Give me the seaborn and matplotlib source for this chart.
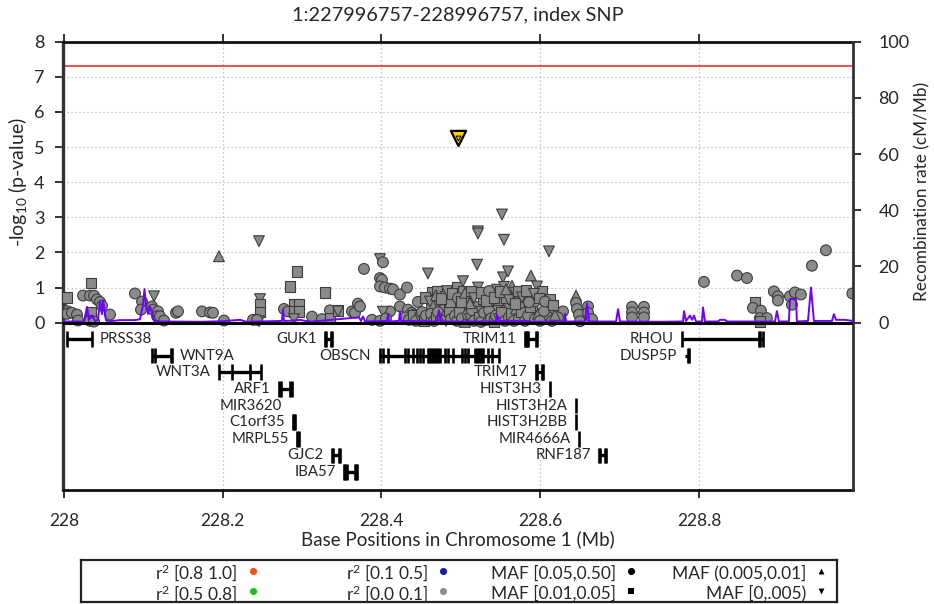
import matplotlib
matplotlib.use("Agg")
import matplotlib.pyplot as plt
import seaborn as sns
import pandas as pd

# ---------------- association results (position in Mb, -log10 p, MAF bin) ----------------
snp_pos = [
    228.0035, 228.0052, 228.0026, 228.0039, 228.0102, 228.0165, 228.0178, 228.0241, 228.0329, 228.0379,
    228.0417, 228.0455, 228.0480, 228.0341, 228.0341, 228.0329, 228.0379, 228.0581, 228.0895, 228.0984,
    228.0971, 228.1135, 228.1110, 228.1122, 228.1185, 228.1173, 228.1210, 228.1261, 228.1412, 228.1437,
    228.1739, 228.1840, 228.1878, 228.2016, 228.1953, 228.2457, 228.2470, 228.2470, 228.2470, 228.2457,
    228.2382, 228.2432, 228.2936, 228.2848, 228.2772, 228.2822, 228.2898, 228.2961, 228.2898, 228.2961,
    228.2898, 228.3137, 228.3125, 228.3250, 228.3288, 228.3351, 228.3351, 228.3452, 228.3452, 228.3628,
    228.3666, 228.3703, 228.3729, 228.3779, 228.3880, 228.3981, 228.4018, 228.3981, 228.4006, 228.3981,
    228.4043, 228.4106, 228.4144, 228.4232, 228.4321, 228.4232, 228.4106, 228.4018, 228.3981, 228.4056,
    228.4458, 228.4333, 228.4383, 228.4421, 228.4585, 228.4636, 228.4699, 228.4636, 228.4636, 228.4737,
    228.4774, 228.4774, 228.4800, 228.4837, 228.4900, 228.4900, 228.4951, 228.4988, 228.5026, 228.5026,
    228.5064, 228.5077, 228.5089, 228.5177, 228.5203, 228.5215, 228.5215, 228.5215, 228.5240, 228.5278,
    228.5328, 228.5391, 228.5404, 228.5454, 228.5454, 228.5454, 228.5467, 228.5517, 228.5542, 228.5530,
    228.5542, 228.5530, 228.5580, 228.5593, 228.5618, 228.5643, 228.5656, 228.5706, 228.5782, 228.5832,
    228.5882, 228.5908, 228.5958, 228.6021, 228.6021, 228.6109, 228.6122, 228.6109, 228.6084, 228.6248,
    228.6286, 228.6223, 228.6450, 228.6450, 228.6462, 228.6487, 228.6500, 228.6601, 228.6601, 228.6651,
    228.7155, 228.7155, 228.7155, 228.7306, 228.7306, 228.7306,
    228.4296, 228.4346, 228.4396, 228.4434, 228.4485, 228.4510, 228.4535, 228.4560, 228.4598, 228.4623,
    228.4661, 228.4686, 228.4711, 228.4749, 228.4787, 228.4812, 228.4850, 228.4875, 228.4925, 228.4951,
    228.4976, 228.5013, 228.5051, 228.5089, 228.5114, 228.5140, 228.5165, 228.5228, 228.5253, 228.5291,
    228.5316, 228.5354, 228.5379, 228.5417, 228.5442, 228.5480, 228.5505, 228.5555, 228.5605, 228.5630,
    228.5668, 228.5694, 228.5731, 228.5756, 228.5807, 228.5845, 228.5870, 228.5933, 228.5971, 228.5996,
    228.6046, 228.6147, 228.6185,
    228.4863, 228.5114, 228.5303, 228.5366, 228.5567, 228.5681, 228.5743, 228.5807, 228.5933,
    228.4548, 228.4611, 228.4686, 228.4749, 228.4825, 228.4888, 228.4963, 228.5001, 228.5052, 228.5127,
    228.5165, 228.5253, 228.5316, 228.5354, 228.5417, 228.5492, 228.5568, 228.5606, 228.5681, 228.5719,
    228.5769, 228.5820, 228.5857, 228.5920, 228.5983, 228.6059, 228.6160,
    228.8061, 228.8477, 228.8603, 228.8703, 228.8678, 228.8779, 228.8766, 228.8854, 228.8766, 228.8942,
    228.8993, 228.8993, 228.9144, 228.9207, 228.9282, 228.9169, 228.9421, 228.9597, 228.9930,
]
snp_logp = [
    0.71, 0.32, 0.38, 0.25, 0.28, 0.23, 0.06, 0.77, 0.77, 0.77,
    0.66, 0.59, 0.48, 1.13, 0.30, 0.05, 0.03, 0.23, 0.83, 0.60,
    0.37, 0.75, 0.46, 0.37, 0.32, 0.18, 0.18, 0.06, 0.28, 0.32,
    0.32, 0.29, 0.28, 0.06, 1.89, 2.32, 0.67, 0.51, 0.30, 0.04,
    0.08, 0.08, 1.46, 1.02, 0.39, 0.32, 0.53, 0.53, 0.32, 0.32,
    0.10, 0.10, 0.17, 0.10, 0.86, 0.35, 0.13, 0.35, 0.32, 0.32,
    0.28, 0.54, 0.46, 1.53, 0.08, 1.81, 1.72, 1.27, 1.22, 1.03,
    1.00, 0.97, 0.95, 0.80, 1.00, 0.46, 0.32, 0.31, 0.05, 0.12,
    0.59, 0.37, 0.28, 0.23, 1.40, 0.85, 0.89, 0.66, 0.46, 0.57,
    0.48, 0.36, 0.75, 0.23, 0.66, 0.36, 0.99, 0.13, 1.18, 0.89,
    0.48, 0.28, 0.75, 0.46, 1.65, 2.60, 2.54, 1.00, 0.32, 0.67,
    0.18, 0.48, 0.56, 0.94, 0.80, 0.36, 0.66, 3.08, 2.36, 1.29,
    1.02, 0.23, 0.36, 1.46, 0.46, 1.05, 0.67, 0.32, 0.18, 0.67,
    1.34, 0.36, 1.03, 0.89, 0.23, 2.03, 0.67, 0.42, 0.18, 0.28,
    0.32, 0.15, 0.77, 0.56, 0.39, 0.23, 0.04, 0.46, 0.28, 0.10,
    0.45, 0.29, 0.15, 0.45, 0.29, 0.15,
    0.15, 0.08, 0.20, 0.05, 0.12, 0.30, 0.05, 0.20, 0.10, 0.25,
    0.05, 0.15, 0.30, 0.10, 0.20, 0.05, 0.35, 0.10, 0.20, 0.05,
    0.30, 0.12, 0.02, 0.22, 0.10, 0.35, 0.05, 0.15, 0.02, 0.28,
    0.08, 0.35, 0.12, 0.03, 0.20, 0.10, 0.30, 0.05, 0.15, 0.25,
    0.05, 0.40, 0.12, 0.30, 0.05, 0.20, 0.45, 0.10, 0.25, 0.05,
    0.33, 0.05, 0.22,
    0.60, 0.55, 0.80, 0.62, 0.72, 0.85, 0.55, 0.80, 0.60,
    0.72, 0.60, 0.78, 0.68, 0.90, 0.82, 0.70, 0.60, 0.85, 0.90,
    0.70, 0.86, 0.62, 0.90, 0.72, 0.88, 0.95, 0.64, 0.55, 0.90,
    0.72, 0.92, 0.58, 0.82, 0.70, 0.60, 0.50,
    1.16, 1.34, 1.27, 0.58, 0.42, 0.34, 0.13, 0.13, 0.04, 0.89,
    0.75, 0.63, 0.75, 0.86, 0.80, 0.51, 1.62, 2.06, 0.83,
]
# c: MAF [0.05,0.50]   s: MAF [0.01,0.05]   u: MAF (0.005,0.01]   d: MAF [0,.005)
snp_maf = list("".join([
    "scucccccccc", "ccssccccc", "cdcccccccc", "ccccuddssd", "ccssccssss",
    "dcccscssdc", "cccccdcccc", "cccccccdcc",
    "ccccdssucc", "scscucscds", "scscddddcs", "cscdscsddd", "dcsdcusccs",
    "ucdssdsucc", "ccuccccccc", "cccccc",
    "ccscdcscuc", "csccudsccc", "scucdccscc", "uccscdsccs", "cucsccscuc", "ccu",
    "sudcsdcsc",
    "sdusdscsus", "dsscssudss", "dscdscs",
    "cccsccccsc", "ccccccccc",
]))

index_pos = 228.496757
index_logp = 5.27

# ---------------- recombination rate (cM/Mb) ----------------
recomb_pos = [
    227.9990, 228.0253, 228.0291, 228.0316, 228.0354, 228.0392, 228.0429, 228.0455, 228.0480, 228.0492,
    228.0530, 228.0581, 228.0707, 228.0895, 228.0958, 228.0996, 228.1015, 228.1034, 228.1059, 228.1084,
    228.1110, 228.1135, 228.1210, 228.1714, 228.2000, 228.2218, 228.2300, 228.2746, 228.2759, 228.2772,
    228.2923, 228.2973, 228.3100, 228.3716, 228.3741, 228.3767, 228.3792, 228.4069, 228.4082, 228.4094,
    228.4220, 228.4232, 228.4245, 228.4698, 228.4723, 228.4748, 228.5442, 228.5455, 228.5480, 228.5556,
    228.5745, 228.5900, 228.6299, 228.6311, 228.6324, 228.6563, 228.6589, 228.6614, 228.6954, 228.6979,
    228.7004, 228.7500, 228.7797, 228.7810, 228.7835, 228.7885, 228.7911, 228.7936, 228.7961, 228.8036,
    228.8049, 228.8074, 228.8238, 228.8263, 228.8326, 228.8351, 228.8955, 228.8980, 228.9005, 228.9131,
    228.9144, 228.9220, 228.9232, 228.9371, 228.9409, 228.9446, 228.9673, 228.9698, 228.9724, 228.9837,
    228.9937,
]
recomb_rate = [
    0.4, 0.4, 5.6, 1.2, 2.5, 0.6, 1.0, 7.5, 3.0, 8.0,
    0.8, 0.5, 0.9, 0.9, 1.2, 6.2, 11.9, 6.2, 3.1, 5.6,
    3.8, 0.6, 0.4, 0.3, 0.5, 1.0, 0.3, 0.6, 4.6, 0.6,
    0.8, 1.0, 0.3, 1.9, 0.6, 2.2, 0.4, 0.6, 2.8, 0.4,
    0.6, 4.0, 0.6, 0.4, 4.4, 0.4, 0.4, 2.8, 0.6, 0.6,
    0.6, 0.3, 0.4, 3.1, 0.4, 0.4, 6.9, 0.4, 0.4, 4.8,
    0.4, 0.3, 0.4, 4.1, 0.6, 2.5, 1.0, 2.5, 0.4, 0.4,
    5.4, 0.4, 0.4, 1.0, 1.0, 0.4, 0.4, 4.1, 0.4, 0.4,
    8.4, 8.4, 0.4, 0.6, 12.5, 0.6, 0.6, 3.0, 1.0, 1.0,
    0.6,
]

# ---------------- gene track ----------------
gene_names = ["PRSS38", "GUK1", "TRIM11", "RHOU", "WNT9A", "OBSCN", "DUSP5P", "WNT3A", "TRIM17",
              "ARF1", "HIST3H3", "MIR3620", "HIST3H2A", "C1orf35", "HIST3H2BB", "MRPL55",
              "MIR4666A", "GJC2", "RNF187", "IBA57"]
gene_start = [228.0043, 228.3288, 228.5807, 228.7788, 228.1106, 228.3972, 228.7822, 228.1953, 228.5946,
              228.2713, 228.6122, 228.2855, 228.6446, 228.2885, 228.6450, 228.2936,
              228.6487, 228.3373, 228.6743, 228.3531]
gene_end = [228.0350, 228.3373, 228.5954, 228.8801, 228.1358, 228.5484, 228.7872, 228.2478, 228.6038,
            228.2869, 228.6127, 228.2856, 228.6451, 228.2910, 228.6455, 228.2955,
            228.6488, 228.3477, 228.6823, 228.3695]
gene_row = [1, 1, 1, 1, 2, 2, 2, 3, 3, 4, 4, 5, 5, 6, 6, 7, 7, 8, 8, 9]
gene_exons = [
    [228.0043, 228.0350],
    [228.3288, 228.3300, 228.3358, 228.3373],
    [228.5807, 228.5819, 228.5832, 228.5845, 228.5940, 228.5954],
    [228.7788, 228.8749, 228.8762, 228.8801],
    [228.1106, 228.1148, 228.1345, 228.1358],
    [228.3981, 228.4022, 228.4085, 228.4296, 228.4337, 228.4400, 228.4443, 228.4485, 228.4526,
     228.4586, 228.4611, 228.4636, 228.4661, 228.4686, 228.4711, 228.4736, 228.4799, 228.4841,
     228.4904, 228.5010, 228.5052, 228.5093, 228.5178, 228.5203, 228.5228, 228.5253, 228.5282,
     228.5345, 228.5388, 228.5484],
    [228.7862, 228.7872],
    [228.1953, 228.2113, 228.2343, 228.2478],
    [228.5946, 228.5960, 228.6025, 228.6038],
    [228.2713, 228.2735, 228.2850, 228.2869],
    [228.6122],
    [],
    [228.6448],
    [228.2885, 228.2897, 228.2910],
    [228.6452],
    [228.2936, 228.2955],
    [228.6488],
    [228.3373, 228.3385, 228.3465, 228.3477],
    [228.6743, 228.6756, 228.6810, 228.6823],
    [228.3531, 228.3545, 228.3560, 228.3670, 228.3685, 228.3695],
]
gene_label_side = ["right", "left", "left", "left", "right", "left", "left", "left", "left",
                   "left", "left", "left", "left", "left", "left", "left",
                   "left", "left", "left", "left"]

title = "1:227996757-228996757, index SNP"
x_ticks = [228.0, 228.2, 228.4, 228.6, 228.8]
x_ticklabels = ["228", "228.2", "228.4", "228.6", "228.8"]
y_ticks = [0, 1, 2, 3, 4, 5, 6, 7, 8]
recomb_ticks = [0, 20, 40, 60, 80, 100]
sig_threshold = 7.3

maf_codes = ["c", "s", "u", "d"]
maf_labels = ["MAF [0.05,0.50]", "MAF [0.01,0.05]", "MAF (0.005,0.01]", "MAF [0,.005)"]
maf_markers = ["o", "s", "^", "v"]
r2_labels = ["r$^{2}$ [0.8 1.0]", "r$^{2}$ [0.5 0.8]", "r$^{2}$ [0.1 0.5]", "r$^{2}$ [0.0 0.1]"]
r2_colors = ["#ff4a1a", "#22bb22", "#1a1aa8", "#8c8c8c"]

# ---------------- styling ----------------
sns.set_style("white")
plt.rcParams["font.family"] = ["Lato", "DejaVu Sans"]
plt.rcParams["mathtext.fontset"] = "custom"
plt.rcParams["mathtext.rm"] = "Lato"
plt.rcParams["mathtext.it"] = "Lato:italic"
plt.rcParams["mathtext.default"] = "regular"

W, H = 934, 604
fig = plt.figure(figsize=(W / 100, H / 100), dpi=100)
fig.patch.set_facecolor("white")
ax = fig.add_axes([62.7 / W, 1 - 489.5 / H, 790.6 / W, 447.8 / H])

x_lo, x_hi = 227.9985, 228.9942
y_lo, y_hi = -4.752, 8.0
ax.set_xlim(x_lo, x_hi)
ax.set_ylim(y_lo, y_hi)

# dotted guides
grid_kw = dict(color="#b5b5b5", lw=0.9, linestyle=(0, (1, 2.2)), zorder=0.5)
ax.hlines(y_ticks[1:-1], x_lo, x_hi, **grid_kw)
ax.vlines(x_ticks[1:], y_lo, y_hi, **grid_kw)
ax.axhline(sig_threshold, color="#ff1a1a", lw=1.1, zorder=1)

# SNP points coloured by LD (all r2 < 0.1 here), shaped by MAF bin
code_to_label = dict(zip(maf_codes, maf_labels))
df = pd.DataFrame({"pos": snp_pos, "logp": snp_logp,
                   "maf": [code_to_label[m] for m in snp_maf]})
sns.scatterplot(data=df, x="pos", y="logp", style="maf",
                markers=dict(zip(maf_labels, maf_markers)), style_order=maf_labels,
                color="#8a8a8a", edgecolor="#3c3c3c", linewidth=0.8, s=60,
                legend=False, ax=ax, zorder=3)

# index SNP
idx = pd.DataFrame({"pos": [index_pos], "logp": [index_logp]})
sns.scatterplot(data=idx, x="pos", y="logp", marker="v", s=120, color="#ffd400",
                edgecolor="black", linewidth=1.6, legend=False, ax=ax, zorder=5)
sns.scatterplot(data=idx, x="pos", y="logp", marker="v", s=12, color="#ffd400",
                edgecolor="black", linewidth=0.7, legend=False, ax=ax, zorder=6)

# genes
for name, s, e, r, exons, side in zip(gene_names, gene_start, gene_end, gene_row,
                                       gene_exons, gene_label_side):
    gy = -0.464 - 0.474 * (r - 1)
    ax.hlines(gy, s, e, color="black", lw=2.4, zorder=2)
    if exons:
        ax.vlines(exons, gy - 0.22, gy + 0.22, color="black", lw=1.9, zorder=2)
    if side == "right":
        ax.annotate(name, (e, gy), xytext=(6, 0), textcoords="offset points",
                    ha="left", va="center", fontsize=10.8)
    else:
        ax.annotate(name, (s, gy), xytext=(-6, 0), textcoords="offset points",
                    ha="right", va="center", fontsize=10.8)

ax.set_xticks(x_ticks)
ax.set_xticklabels(x_ticklabels)
ax.set_yticks(y_ticks)
ax.tick_params(axis="x", direction="out", length=6, width=1.3, top=True, bottom=True,
               labeltop=False, labelsize=12.5, pad=11, color="#222222")
ax.tick_params(axis="y", direction="out", length=6, width=1.3, labelsize=13, pad=7,
               color="#222222")
ax.set_xlabel("Base Positions in Chromosome 1 (Mb)", fontsize=13.5)
ax.xaxis.set_label_coords(0.5, -0.09)
ax.set_ylabel("-log$_{10}$ (p-value)", fontsize=14)
ax.yaxis.set_label_coords(-0.043, 0.686)

for side in ["top", "bottom"]:
    ax.spines[side].set_color("#111111")
    ax.spines[side].set_linewidth(2.0)
ax.spines["left"].set_color("#333333")
ax.spines["left"].set_linewidth(2.4)
ax.spines["right"].set_visible(False)

# recombination rate on the secondary axis
ax2 = ax.twinx()
ax2.set_ylim(y_lo * 12.5, y_hi * 12.5)
rec = pd.DataFrame({"pos": recomb_pos, "rate": recomb_rate})
sns.lineplot(data=rec, x="pos", y="rate", color="#6f00ff", lw=1.4, sort=False,
             estimator=None, ax=ax2, zorder=4)
ax2.axhline(0, color="black", lw=2.2, zorder=5)
ax2.set_yticks(recomb_ticks)
ax2.tick_params(axis="y", direction="out", length=6, width=1.3, labelsize=13, pad=12,
                color="#222222")
ax2.set_ylabel("Recombination rate (cM/Mb)", fontsize=12.3)
ax2.yaxis.set_label_coords(1.077, 0.665)
ax2.set_xlabel("")
for side in ["top", "bottom", "left"]:
    ax2.spines[side].set_visible(False)
ax2.spines["right"].set_color("#333333")
ax2.spines["right"].set_linewidth(2.0)
ax2.set_xlim(x_lo, x_hi)

fig.text(458 / W, 1 - 15 / H, title, ha="center", va="center", fontsize=14.3)

# legend box
lax = fig.add_axes([81 / W, 1 - 602 / H, 756 / W, 42 / H])
lax.set_xlim(0, 1)
lax.set_ylim(0, 1)
lax.set_xticks([])
lax.set_yticks([])
for sp in lax.spines.values():
    sp.set_color("#222222")
    sp.set_linewidth(1.6)
col_x = [0.227, 0.479, 0.728, 0.979]
row_y = [0.74, 0.26]
entries = [
    (r2_labels[0], "o", r2_colors[0]), (r2_labels[1], "o", r2_colors[1]),
    (r2_labels[2], "o", r2_colors[2]), (r2_labels[3], "o", r2_colors[3]),
    (maf_labels[0], maf_markers[0], "black"), (maf_labels[1], maf_markers[1], "black"),
    (maf_labels[2], maf_markers[2], "black"), (maf_labels[3], maf_markers[3], "black"),
]
for i, (lab, mk, col) in enumerate(entries):
    cx = col_x[i // 2]
    cy = row_y[i % 2]
    lax.scatter([cx], [cy], marker=mk, s=26 if mk == "o" else 18, color=col, linewidths=0)
    lax.text(cx - 0.02, cy - 0.05, lab, ha="right", va="center", fontsize=12.5)

fig.savefig("out.png", dpi=100)
